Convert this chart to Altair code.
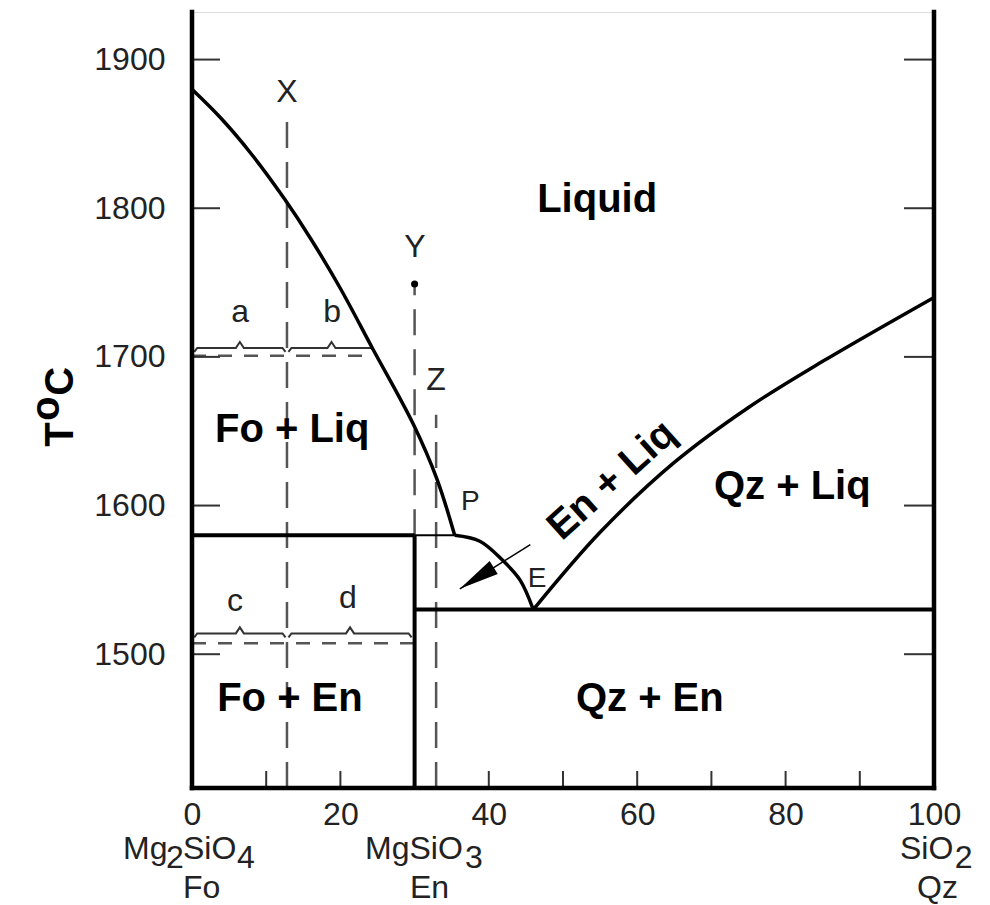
import altair as alt
import pandas as pd

# ---------------- data (wt% SiO2, temperature in °C) ----------------
T_MIN, T_MAX = 1410, 1932
X_MIN, X_MAX = 0, 100

# liquidus curves
fo_liquidus_x = [0, 4, 8, 12.5, 16, 20, 24.3, 29.8, 33.0, 35.4]
fo_liquidus_t = [1880, 1860, 1836.5, 1806, 1779.5, 1746, 1706, 1655, 1618, 1580]
en_liquidus_x = [35.4, 38.8, 41.9, 44.2, 46.0]
en_liquidus_t = [1580, 1576, 1563, 1550, 1530]
qz_liquidus_x = [46.0, 55, 65, 75, 85, 100]
qz_liquidus_t = [1530, 1582, 1629, 1666, 1697, 1740]

# solid phase boundaries (x, x2, t, t2)
bound_x = [30, 0, 30]
bound_x2 = [30, 30, 100]
bound_t = [T_MIN, 1580, 1530]
bound_t2 = [1580, 1580, 1530]
thin_x, thin_x2, thin_t = [30], [35.4], [1580]

# dashed guide lines
vdash_x = [12.8, 30, 32.9]
vdash_t = [T_MIN, 1580, T_MIN]
vdash_t2 = [1864, 1749, 1661]
hdash_x = [0, 0]
hdash_x2 = [24.3, 30]
hdash_t = [1700.7, 1507.4]

# braces (x0, x1, t)
brace_x0 = [0.3, 13.0, 0.3, 13.0]
brace_x1 = [12.6, 24.6, 12.6, 29.6]
brace_t = [1706, 1706, 1514, 1514]

# arrow (start -> tip)
arrow_x = [45.6, 36.1]
arrow_t = [1573.7, 1544.0]

# bulk composition point Y
dot_x, dot_t = [30], [1749]

# tick values
x_label_vals = [0, 20, 40, 60, 80, 100]
x_minor_vals = [10, 20, 30, 40, 50, 60, 70, 80, 90]
y_label_vals = [1500, 1600, 1700, 1800, 1900]

# labels
small_text = ["X", "Y", "Z", "a", "b", "c", "d"]
small_x = [12.8, 30.05, 32.9, 6.5, 18.9, 5.8, 21.0]
small_t = [1878, 1774, 1684.5, 1730, 1730, 1536, 1538]

pe_text = ["P", "E"]
pe_x = [37.5, 46.5]
pe_t = [1602.4, 1550.5]

field_text = ["Liquid", "Fo + Liq", "Fo + En", "Qz + En", "Qz + Liq"]
field_x = [54.6, 13.5, 13.2, 61.7, 80.9]
field_t = [1805.7, 1650.8, 1470.0, 1470.0, 1612.5]

rot_text, rot_x, rot_t = ["En + Liq"], [56.6], [1617]

title_text = ["T", "o", "C"]
title_x = [-17.6, -19.5, -17.7]
title_t = [1647.8, 1665.3, 1683.5]

comp_text = ["Mg", "2", "SiO", "4", "Fo", "MgSiO", "3", "En", "SiO", "2", "Qz"]
comp_x = [-9.30, -3.50, -1.21, 6.06, -1.21, 23.32, 36.8, 29.38, 95.42, 102.8, 97.71]
comp_t = [1368.7, 1362.6, 1368.7, 1362.6, 1343.0, 1368.7, 1362.6, 1343.0, 1368.7, 1362.6, 1343.0]

# ---------------- helpers ----------------
FONT = "Liberation Sans"
W, H = 742, 776
PX_X = W / (X_MAX - X_MIN)
PX_T = H / (T_MAX - T_MIN)

XS = alt.Scale(domain=[X_MIN, X_MAX], nice=False, zero=False)
YS = alt.Scale(domain=[T_MIN, T_MAX], nice=False, zero=False)
x_axis = alt.Axis(values=x_label_vals, ticks=False, domain=False, grid=False, title=None,
                  labelFont=FONT, labelFontSize=32, labelColor="#222", labelPadding=11,
                  labelFlush=False, labelOverlap=False, format="d")
y_axis = alt.Axis(values=y_label_vals, ticks=False, domain=False, grid=False, title=None,
                  labelFont=FONT, labelFontSize=32, labelColor="#222", labelPadding=27,
                  labelOverlap=False, format="d")


def X(f):
    return alt.X(f, type="quantitative", scale=XS, axis=x_axis)


def Y(f):
    return alt.Y(f, type="quantitative", scale=YS, axis=y_axis)


def curve(xs, ts, name):
    return pd.DataFrame({"x": xs, "t": ts, "i": range(len(xs)), "g": name})


curves = pd.concat([
    curve(fo_liquidus_x, fo_liquidus_t, "fo"),
    curve(en_liquidus_x, en_liquidus_t, "en"),
    curve(qz_liquidus_x, qz_liquidus_t, "qz"),
])

frame = pd.DataFrame({"x": [X_MIN, X_MAX, X_MIN], "x2": [X_MIN, X_MAX, X_MAX],
                      "t": [T_MIN, T_MIN, T_MIN], "t2": [T_MAX, T_MAX, T_MIN]})
bounds = pd.DataFrame({"x": bound_x, "x2": bound_x2, "t": bound_t, "t2": bound_t2})
thin = pd.DataFrame({"x": thin_x, "x2": thin_x2, "t": thin_t, "t2": thin_t})
vdash = pd.DataFrame({"x": vdash_x, "x2": vdash_x, "t": vdash_t, "t2": vdash_t2})
hdash = pd.DataFrame({"x": hdash_x, "x2": hdash_x2, "t": hdash_t, "t2": hdash_t})

# inward ticks
tick_rows = []
for v in y_label_vals:
    tick_rows.append({"x": X_MIN, "x2": X_MIN + 28 / PX_X, "t": v, "t2": v})
    tick_rows.append({"x": X_MAX - 30 / PX_X, "x2": X_MAX, "t": v, "t2": v})
for v in x_minor_vals:
    tick_rows.append({"x": v, "x2": v, "t": T_MIN, "t2": T_MIN + 17 / PX_T})
ticks = pd.DataFrame(tick_rows)

# braces
brace_rows = []
drop, peak, curl, half = 4 / PX_T, 6 / PX_T, 3 / PX_X, 4 / PX_X
for k, (a, b, t) in enumerate(zip(brace_x0, brace_x1, brace_t)):
    m = (a + b) / 2
    pts = [(a, t - drop), (a + curl, t), (m - half, t), (m, t + peak),
           (m + half, t), (b - curl, t), (b, t - drop)]
    for i, (px, pt) in enumerate(pts):
        brace_rows.append({"x": px, "t": pt, "i": i, "g": k})
braces = pd.DataFrame(brace_rows)

arrow = pd.DataFrame({"x": [arrow_x[0]], "x2": [arrow_x[1]], "t": [arrow_t[0]], "t2": [arrow_t[1]]})
head = pd.DataFrame({"x": [arrow_x[1]], "t": [arrow_t[1]]})
dot = pd.DataFrame({"x": dot_x, "t": dot_t})


def rules(df, **kw):
    return alt.Chart(df).mark_rule(**kw).encode(
        x=X("x"), x2=alt.X2("x2"), y=Y("t"), y2=alt.Y2("t2"))


def texts(txt, xs, ts, **kw):
    df = pd.DataFrame({"label": txt, "x": xs, "t": ts})
    return alt.Chart(df).mark_text(font=FONT, **kw).encode(
        x=X("x"), y=Y("t"), text="label:N")


layers = [
    rules(vdash, color="#555", strokeWidth=2.5, strokeDash=[26, 14]),
    rules(hdash, color="#555", strokeWidth=2.5, strokeDash=[14, 12]),
    alt.Chart(braces).mark_line(color="#333", strokeWidth=2).encode(
        x=X("x"), y=Y("t"), order="i:Q", detail="g:N"),
    rules(ticks, color="#333", strokeWidth=2),
    rules(frame, color="black", strokeWidth=4.5, strokeCap="square"),
    rules(bounds, color="black", strokeWidth=4),
    rules(thin, color="black", strokeWidth=2),
    alt.Chart(curves).mark_line(color="black", strokeWidth=3.5, interpolate="catmull-rom").encode(
        x=X("x"), y=Y("t"), order="i:Q", detail="g:N"),
    rules(arrow, color="black", strokeWidth=1.5),
    alt.Chart(head).mark_point(shape="M0,0 L0.38,2 L-0.38,2 Z", filled=True, color="black",
                               opacity=1, size=1600, angle=237.8).encode(x=X("x"), y=Y("t")),
    alt.Chart(dot).mark_point(shape="circle", filled=True, color="black", opacity=1,
                              size=50).encode(x=X("x"), y=Y("t")),
    texts(small_text, small_x, small_t, fontSize=32, color="#222", align="center", baseline="middle"),
    texts(pe_text, pe_x, pe_t, fontSize=28, color="#222", align="center", baseline="middle"),
    texts(field_text, field_x, field_t, fontSize=40, fontWeight="bold", color="black",
          align="center", baseline="middle"),
    texts(rot_text, rot_x, rot_t, fontSize=40, fontWeight="bold", color="black",
          align="center", baseline="middle", angle=318),
    texts(title_text, title_x, title_t, fontSize=40, fontWeight="bold", color="black",
          align="center", baseline="middle", angle=270),
    texts(comp_text, comp_x, comp_t, fontSize=32, color="#222", align="left", baseline="middle"),
]

chart = alt.layer(*layers).properties(
    width=W, height=H,
    autosize=alt.AutoSizeParams(type="none"),
    padding={"left": 184, "top": 4, "right": 48, "bottom": 117},
).configure_view(stroke=None).configure(background="white")

chart.save("out.html", embed_options={"renderer": "svg", "actions": False})
